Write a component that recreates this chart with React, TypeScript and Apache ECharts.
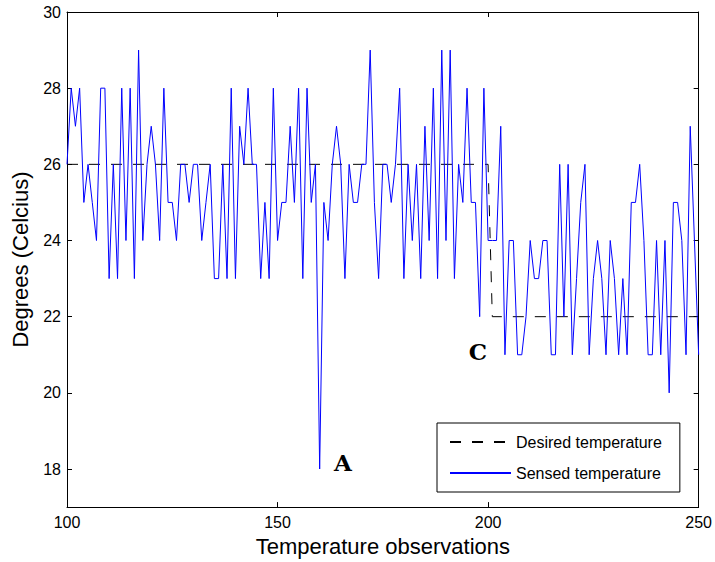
import React, { useEffect, useRef } from "react";
import * as echarts from "echarts";

const observationStart = 100;
const sensedTemperature = [
  26, 28, 27, 28, 25, 26, 25, 24, 28, 28,
  23, 26, 23, 28, 24, 28, 23, 29, 24, 26,
  27, 26, 24, 28, 25, 25, 24, 26, 26, 25,
  26, 26, 24, 25, 26, 23, 23, 26, 23, 28,
  23, 27, 26, 28, 26, 26, 23, 25, 23, 28,
  24, 25, 25, 27, 25, 28, 23, 28, 25, 26,
  18, 25, 24, 26, 27, 26, 23, 26, 25, 25,
  26, 26, 29, 25, 23, 26, 26, 25, 26, 28,
  23, 26, 24, 26, 23, 27, 24, 28, 23, 29,
  24, 29, 23, 26, 25, 28, 25, 25, 22, 28,
  24, 24, 24, 27, 21, 24, 24, 21, 21, 22,
  24, 23, 23, 24, 24, 21, 21, 26, 22, 26,
  21, 23, 25, 26, 21, 23, 24, 23, 21, 24,
  23, 21, 23, 21, 25, 25, 26, 24, 21, 21,
  24, 21, 24, 20, 25, 25, 24, 21, 27, 24,
  21,
];
const desiredX = [100, 200, 201, 250];
const desiredY = [26, 26, 22, 22];
const xTicks = [100, 150, 200, 250];
const yTicks = [18, 20, 22, 24, 26, 28, 30];
const seriesNames = ["Desired temperature", "Sensed temperature"];
const annotations = ["A", "C"];

export default function App() {
  const ref = useRef<HTMLDivElement>(null);
  useEffect(() => {
    const chart = echarts.init(ref.current!, null, { renderer: "svg" });
    const sensed = sensedTemperature.map((v, i) => [observationStart + i, v]);
    const desired = desiredX.map((x, i) => [x, desiredY[i]]);
    const font = "'Liberation Sans', Arial, Helvetica, sans-serif";
    const line = { show: true, onZero: false, lineStyle: { color: "#000", width: 1 } };
    const tick = { show: true, inside: true, length: 5, lineStyle: { color: "#000", width: 1 } };
    const xBase = {
      type: "value",
      min: xTicks[0],
      max: xTicks[xTicks.length - 1],
      interval: 50,
      axisLine: line,
      splitLine: { show: false },
    };
    const yBase = {
      type: "value",
      min: 17,
      max: 30,
      axisLine: line,
      splitLine: { show: false },
    };
    const annotationStyle = {
      fontFamily: "'DejaVu Serif', 'Courier New', serif",
      fontWeight: "bold",
      fontSize: 23,
      fill: "#000",
      align: "center",
      verticalAlign: "middle",
    };
    chart.setOption({
      animation: false,
      backgroundColor: "#fff",
      grid: { left: 67, top: 12, right: 15, bottom: 52, containLabel: false },
      xAxis: [
        {
          ...xBase,
          position: "bottom",
          axisTick: tick,
          axisLabel: { show: true, color: "#000", fontSize: 16, fontFamily: font, margin: 7 },
          name: "Temperature observations",
          nameLocation: "middle",
          nameGap: 27,
          nameTextStyle: { color: "#000", fontSize: 22, fontFamily: font },
        },
        {
          ...xBase,
          position: "top",
          axisTick: tick,
          axisLabel: { show: false },
        },
      ],
      yAxis: [
        {
          ...yBase,
          position: "left",
          axisTick: { ...tick, customValues: yTicks },
          axisLabel: { show: true, color: "#000", fontSize: 16, fontFamily: font, margin: 6, customValues: yTicks },
          name: "Degrees (Celcius)",
          nameLocation: "middle",
          nameGap: 36,
          nameTextStyle: { color: "#000", fontSize: 22, fontFamily: font },
        },
        {
          ...yBase,
          position: "right",
          axisTick: { ...tick, customValues: yTicks },
          axisLabel: { show: false },
        },
      ],
      legend: {
        show: true,
        orient: "vertical",
        left: 437,
        top: 423,
        itemWidth: 61,
        itemHeight: 14,
        itemGap: 15,
        padding: [11, 18, 11, 12],
        borderColor: "#000",
        borderWidth: 1,
        borderRadius: 0,
        backgroundColor: "#fff",
        itemStyle: { opacity: 0, borderWidth: 0 },
        textStyle: { fontSize: 16, color: "#000", fontFamily: font },
        data: seriesNames,
      },
      series: [
        {
          name: seriesNames[0],
          type: "line",
          data: desired,
          symbol: "none",
          showSymbol: false,
          lineStyle: { color: "#000", width: 1, type: [11, 11] },
          itemStyle: { color: "#000" },
          z: 2,
        },
        {
          name: seriesNames[1],
          type: "line",
          data: sensed,
          symbol: "none",
          showSymbol: false,
          lineStyle: { color: "#0000ff", width: 1 },
          itemStyle: { color: "#0000ff" },
          z: 3,
        },
      ],
      graphic: [
        {
          type: "text",
          x: 343,
          y: 462,
          style: { ...annotationStyle, text: annotations[0] },
        },
        {
          type: "text",
          x: 478,
          y: 351,
          style: { ...annotationStyle, text: annotations[1] },
        },
      ],
    });
    return () => chart.dispose();
  }, []);
  return (
    <div
      ref={ref}
      style={{ position: "fixed", left: 0, top: 0, width: 715, height: 562, background: "#fff" }}
    />
  );
}
